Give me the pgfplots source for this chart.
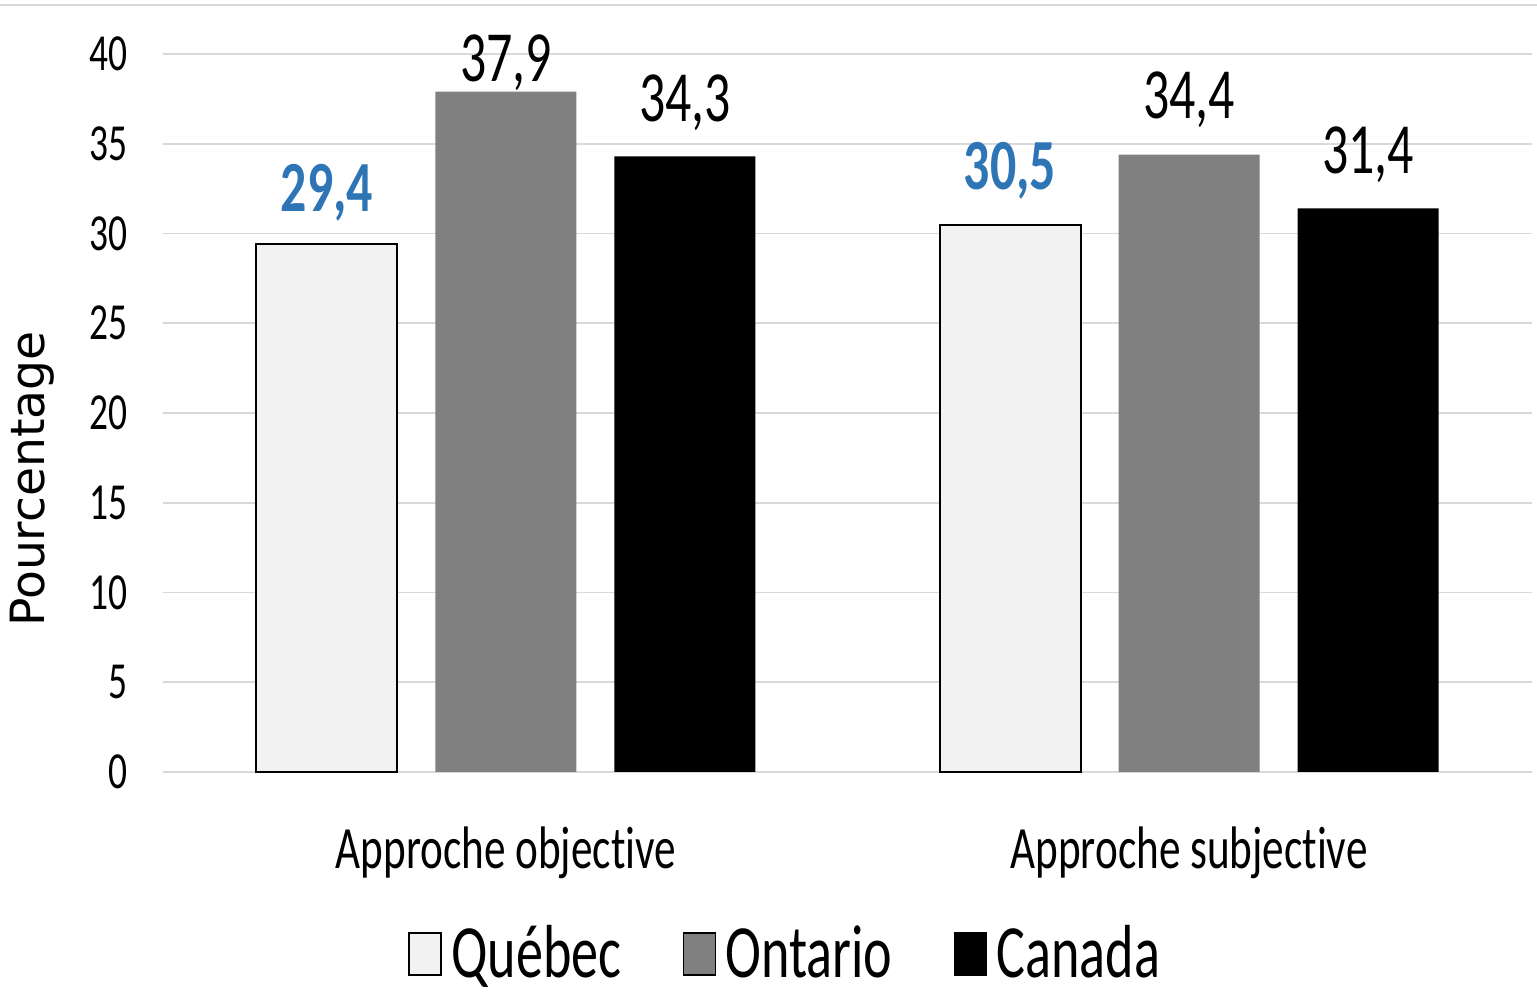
\documentclass[border=0pt]{standalone}
\usepackage{fontspec}
\setmainfont{Carlito}[FakeStretch=0.72, Ligatures=NoCommon]
\newfontfamily\dejavu{DejaVu Sans}
\usepackage{pgfplots}
\usepackage{pgfplotstable}
\pgfplotsset{compat=1.18}
\definecolor{qfill}{HTML}{F2F2F2}
\definecolor{ofill}{HTML}{808080}
\definecolor{gridc}{HTML}{D9D9D9}
\definecolor{blueL}{RGB}{46,117,182}

\pgfplotstableread{
x y shift
0 29.4 8.25
1 30.5 8.75
}\quebec
\pgfplotstableread{
x y shift
0 37.9 2.5
1 34.4 9.0
}\ontario
\pgfplotstableread{
x y shift
0 34.3 8.75
1 31.4 8.75
}\canada

\begin{document}
\begin{tikzpicture}
\useasboundingbox (-40.75pt,-55.25pt) rectangle (343.5pt,193pt);
\begin{axis}[
  at={(0pt,0pt)}, anchor=south west,
  scale only axis,
  width=342.25pt, height=179.5pt,
  xmin=-0.502, xmax=1.502,
  ymin=0, ymax=40,
  clip=false,
  ytick={0,5,...,40},
  xtick={0,1},
  xticklabels={Approche objective, Approche subjective},
  major tick length=0pt,
  axis line style={draw=none},
  ymajorgrids,
  grid style={gridc, line width=0.45pt},
  /pgf/number format/assume math mode=true,
  yticklabel style={font=\fontsize{13}{15}\selectfont, anchor=east, inner sep=0pt, xshift=-8.75pt},
  xticklabel style={font=\fontsize{15}{18}\selectfont, anchor=base, inner sep=0pt, yshift=-24pt},
  ylabel={Pourcentage},
  every axis y label/.style={at={(axis description cs:-0.0957,0.408)}, rotate=90, anchor=center, font=\dejavu\fontsize{11.8}{14}\selectfont},
  ybar,
  bar width=35.25pt,
  visualization depends on={\thisrow{shift} \as \myshift},
  nodes near coords={\pgfmathprintnumber[fixed,fixed zerofill,precision=1,use comma]{\pgfplotspointmeta}},
  every node near coord/.append style={font=\fontsize{18}{21}\selectfont, anchor=base, inner sep=0pt, yshift=\myshift pt},
  legend columns=3,
  legend style={draw=none, fill=none, at={(0.457,-0.2537)}, anchor=center,
    inner sep=0pt,
    font=\fontsize{18.8}{22}\selectfont,
    /tikz/every even column/.append style={column sep=13pt},
    nodes={inner xsep=2.3pt, inner ysep=0pt}},
  legend image code/.code={\draw[#1] (0pt,-5.2pt) rectangle (8pt,5.3pt);},
]
\addplot[bar shift=-44.75pt, fill=qfill, draw=black, line width=0.5pt,
  every node near coord/.append style={text=blueL, font=\bfseries\fontsize{18}{21}\selectfont}]
  table[x=x,y=y] {\quebec};
\addlegendentry{Québec}
\addplot[bar shift=0pt, fill=ofill, draw=none] table[x=x,y=y] {\ontario};
\addlegendentry{Ontario}
\addplot[bar shift=44.75pt, fill=black, draw=none] table[x=x,y=y] {\canada};
\addlegendentry{Canada}
\draw[gridc, line width=0.45pt] (axis description cs:-0.119,1.068) -- (axis description cs:1.0036,1.068);
\end{axis}
\end{tikzpicture}
\end{document}
